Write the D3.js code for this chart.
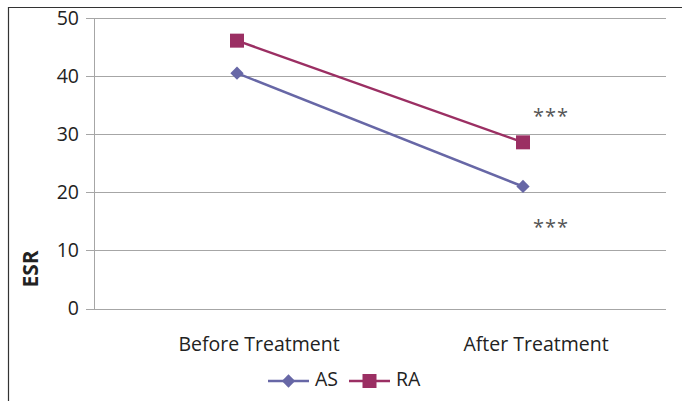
<!DOCTYPE html>
<html>
<head>
<meta charset="utf-8">
<script src="https://cdn.jsdelivr.net/npm/d3@7"></script>
<style>
  body { margin: 0; background: #fff; }
  svg text { font-family: "Open Sans", "DejaVu Sans", sans-serif; fill: #222; }
</style>
</head>
<body>
<div id="chart"></div>
<script>
const categories = ["Before Treatment", "After Treatment"];
const seriesNames = ["AS", "RA"];
const asValues = [40.5, 21.0];
const raValues = [46.1, 28.6];
const yTicks = [0, 10, 20, 30, 40, 50];
const annotations = [
  { cat: "After Treatment", value: 32.8, text: "***" },
  { cat: "After Treatment", value: 13.7, text: "***" }
];

const colors = { AS: "#6767a6", RA: "#9b2f63" };

const fullWidth = 682, fullHeight = 401;
const margin = { top: 18, right: 16, bottom: 92, left: 94 };
const width = fullWidth - margin.left - margin.right;
const height = 308.5 - margin.top;

const svg = d3.select("#chart").append("svg")
  .attr("width", fullWidth)
  .attr("height", fullHeight);

// outer frame (only top and left edges show)
svg.append("path")
  .attr("d", `M8.5,${fullHeight} V7.5 H${fullWidth}`)
  .attr("fill", "none")
  .attr("stroke", "#333")
  .attr("stroke-width", 1.2);

const g = svg.append("g")
  .attr("transform", `translate(${margin.left},${margin.top})`);

const x = d3.scaleBand().domain(categories).range([0, width]);
const y = d3.scaleLinear().domain([0, 50]).range([height, 0]);

// gridlines
g.append("g")
  .selectAll("line")
  .data(yTicks)
  .join("line")
    .attr("x1", -8)
    .attr("x2", width)
    .attr("y1", d => Math.round(y(d)) + 0.5)
    .attr("y2", d => Math.round(y(d)) + 0.5)
    .attr("stroke", "#a6a6a6")
    .attr("stroke-width", 1);

// y axis
const yAxis = g.append("g")
  .call(d3.axisLeft(y).tickValues(yTicks).tickSize(0).tickPadding(15));
yAxis.select(".domain").attr("stroke", "#a6a6a6");
yAxis.selectAll("text")
  .style("font-size", "19.5px")
  .attr("fill", "#222");

// x axis labels
const xAxis = g.append("g")
  .attr("transform", `translate(0,${height})`)
  .call(d3.axisBottom(x).tickSize(0).tickPadding(29));
xAxis.select(".domain").remove();
xAxis.selectAll("text")
  .style("font-size", "19.5px")
  .attr("fill", "#222")
  .attr("dx", (d, i) => i === 0 ? 22 : 13);

svg.append("text")
  .attr("transform", "rotate(-90)")
  .attr("x", -269)
  .attr("y", 38)
  .attr("text-anchor", "middle")
  .style("font-size", "21px")
  .style("font-weight", "bold")
  .text("ESR");

const series = [
  { name: "AS", values: asValues },
  { name: "RA", values: raValues }
];

const line = d3.line()
  .x((d, i) => x(categories[i]) + x.bandwidth() / 2)
  .y(d => y(d));

const markerPath = name => name === "AS"
  ? d3.symbol().type(d3.symbolSquare).size(88)()
  : d3.symbol().type(d3.symbolSquare).size(196)();
const markerRotate = name => name === "AS" ? " rotate(45)" : "";

series.forEach(s => {
  g.append("path")
    .datum(s.values)
    .attr("fill", "none")
    .attr("stroke", colors[s.name])
    .attr("stroke-width", 2.5)
    .attr("d", line);

  g.selectAll(null)
    .data(s.values)
    .join("path")
      .attr("transform", (d, i) =>
        `translate(${x(categories[i]) + x.bandwidth() / 2},${y(d)})` + markerRotate(s.name))
      .attr("d", markerPath(s.name))
      .attr("fill", colors[s.name]);
});

g.selectAll(".annot")
  .data(annotations)
  .join("text")
    .attr("class", "annot")
    .attr("x", d => x(d.cat) + x.bandwidth() / 2 + 28)
    .attr("y", d => y(d.value))
    .attr("text-anchor", "middle")
    .attr("dominant-baseline", "middle")
    .style("font-size", "20px")
    .style("letter-spacing", "1px")
    .style("fill", "#555")
    .text(d => d.text);

// legend
const legend = svg.append("g").attr("transform", "translate(268,381)");
const legendX = d3.scaleOrdinal().domain(seriesNames).range([0, 81]);
seriesNames.forEach(name => {
  const item = legend.append("g").attr("transform", `translate(${legendX(name)},0)`);
  item.append("line")
    .attr("x1", 0).attr("x2", 41)
    .attr("stroke", colors[name])
    .attr("stroke-width", 2.5);
  item.append("path")
    .attr("transform", "translate(20.5,0)" + markerRotate(name))
    .attr("d", markerPath(name))
    .attr("fill", colors[name]);
  item.append("text")
    .attr("x", 47)
    .attr("dominant-baseline", "middle")
    .style("font-size", "19.5px")
    .text(name);
});
</script>
</body>
</html>
